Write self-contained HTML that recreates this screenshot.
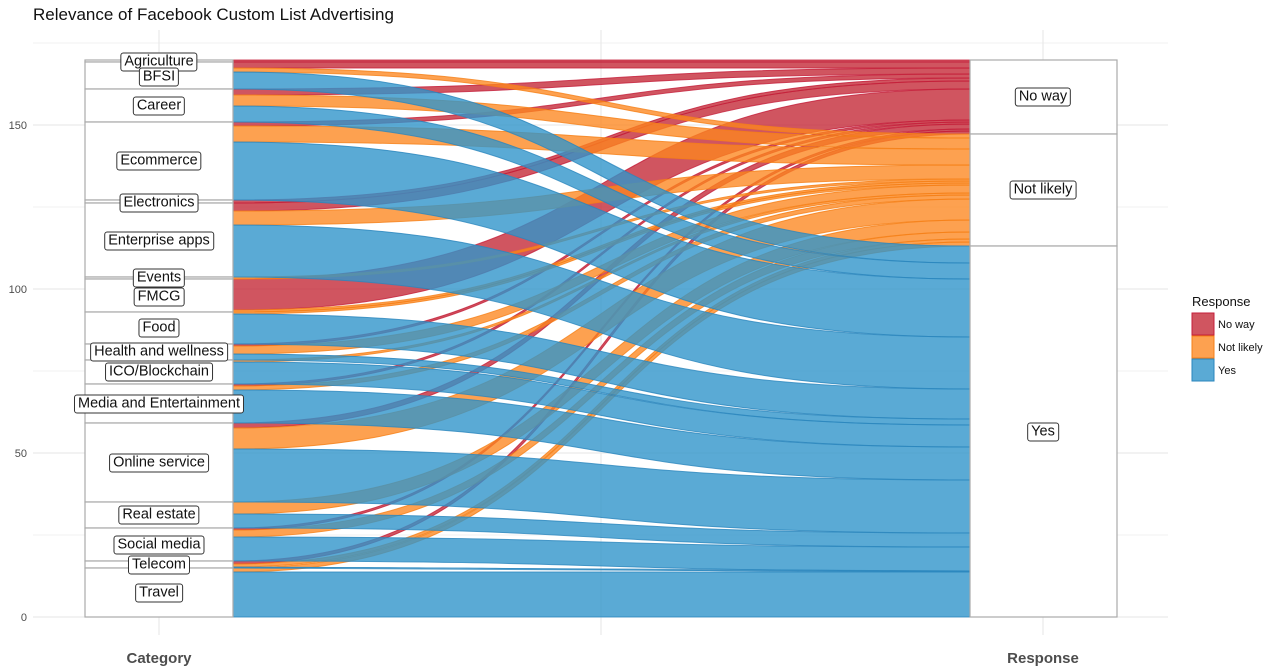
<!DOCTYPE html>
<html><head><meta charset="utf-8"><style>
body{margin:0;background:#fff;font-family:"Liberation Sans",sans-serif;}
#w{position:relative;width:1280px;height:670px;overflow:hidden;}
.lb{position:absolute;transform:translate(-50%,-50%);background:#fff;border:1px solid #333;border-radius:3px;padding:0 3px;font-size:14.5px;line-height:17px;white-space:nowrap;color:#111;}
</style></head><body><div id="w">
<svg id="s" width="1280" height="670" style="position:absolute;left:0;top:0"></svg>
</div>
<script>
var S=document.getElementById('s'),W=document.getElementById('w');
var h='';
function y(v){return 617-v*3.28;}
[0,25,50,75,100,125,150,175].forEach(function(v){var yy=y(v);if(yy>35)h+='<line x1="33" x2="1168" y1="'+yy+'" y2="'+yy+'" stroke="'+(v%50? '#f2f2f2':'#e6e6e6')+'" stroke-width="1"/>';});
[159,601,1043].forEach(function(x){h+='<line x1="'+x+'" x2="'+x+'" y1="30" y2="635" stroke="#e6e6e6"/>';});
[[0,617],[50,453],[100,289],[150,125]].forEach(function(a){h+='<text x="27" y="'+(a[1]+4)+'" font-size="11" fill="#4d4d4d" text-anchor="end">'+a[0]+'</text>';});
h+='<text x="33" y="20" font-size="17" fill="#111">Relevance of Facebook Custom List Advertising</text>';
h+='<text x="159" y="663" font-size="15" font-weight="bold" fill="#4d4d4d" text-anchor="middle">Category</text>';
h+='<text x="1043" y="663" font-size="15" font-weight="bold" fill="#4d4d4d" text-anchor="middle">Response</text>';
var C=[["Agriculture",60,62,2,0],["BFSI",62,89,6,4],["Career",89,122,6,11],["Ecommerce",122,200,4,16],["Electronics",200,203,3,0],["Enterprise apps",203,277,8,14],["Events",277,279,0,2],["FMCG",279,312,31,2],["Food",312,344,0,2],["Health and wellness",344,360,2,8],["ICO/Blockchain",360,384,0,2],["Media and Entertainment",384,423,2,4],["Online service",423,502,5,21],["Real estate",502,528,0,12],["Social media",528,561,2,7],["Telecom",561,568,3,3],["Travel",568,617,0,4]];
var labY={"Agriculture":62,"BFSI":77,"Career":106,"Ecommerce":161,"Electronics":203,"Enterprise apps":241,"Events":278,"FMCG":297,"Food":328,"Health and wellness":352,"ICO/Blockchain":372,"Media and Entertainment":404,"Online service":463,"Real estate":515,"Social media":545,"Telecom":565,"Travel":593};
var flows=[],tot=[0,0,0];
C.forEach(function(c){var t=c[2]-c[1];var v=[c[3],c[4],t-c[3]-c[4]];var cur=c[1];for(var k=0;k<3;k++){flows.push({k:k,l0:cur,l1:cur+v[k],h:v[k]});cur+=v[k];tot[k]+=v[k];}});
var rs=[60,60+tot[0],60+tot[0]+tot[1]];var rc=rs.slice();
flows.forEach(function(f){f.r0=rc[f.k];f.r1=rc[f.k]+f.h;rc[f.k]+=f.h;});
var fill=['rgb(196,43,56)','rgb(253,135,31)','rgb(49,149,203)'],op=[0.8,0.78,0.8];
var stk=['#c41e3a','#f57f17','#2a86bd'];
var x0=233,x1=970,xa=x0+(x1-x0)*0.55,xb=x0+(x1-x0)*0.45;
[0,1,2].forEach(function(k){flows.forEach(function(f){if(f.k!=k||f.h<=0)return;
h+='<path d="M'+x0+','+f.l0+' C'+xa+','+f.l0+' '+xb+','+f.r0+' '+x1+','+f.r0+' L'+x1+','+f.r1+' C'+xb+','+f.r1+' '+xa+','+f.l1+' '+x0+','+f.l1+' Z" fill="'+fill[k]+'" fill-opacity="'+op[k]+'" stroke="'+stk[k]+'" stroke-opacity="0.8" stroke-width="1"/>';});});
C.forEach(function(c){h+='<rect x="85" y="'+c[1]+'" width="148" height="'+(c[2]-c[1])+'" fill="#fff" stroke="#aaa" stroke-width="1.2"/>';});
var R=[["No way",60,rs[1]],["Not likely",rs[1],rs[2]],["Yes",rs[2],617]];
R.forEach(function(r){h+='<rect x="970" y="'+r[1]+'" width="147" height="'+(r[2]-r[1])+'" fill="#fff" stroke="#aaa" stroke-width="1.2"/>';});
h+='<text x="1192" y="306" font-size="13" fill="#111">Response</text>';
var ln=['No way','Not likely','Yes'];
for(var i=0;i<3;i++){var yy=313+i*23;h+='<rect x="1192" y="'+yy+'" width="22" height="22" fill="'+fill[i]+'" fill-opacity="'+op[i]+'" stroke="'+stk[i]+'"/><text x="1218" y="'+(yy+15)+'" font-size="11" fill="#111">'+ln[i]+'</text>';}
S.innerHTML=h;
var lh='';
C.forEach(function(c){lh+='<div class="lb" style="left:159px;top:'+labY[c[0]]+'px">'+c[0]+'</div>';});
R.forEach(function(r){lh+='<div class="lb" style="left:1043px;top:'+((r[1]+r[2])/2)+'px">'+r[0]+'</div>';});
W.insertAdjacentHTML('beforeend',lh);
</script>
</body></html>
